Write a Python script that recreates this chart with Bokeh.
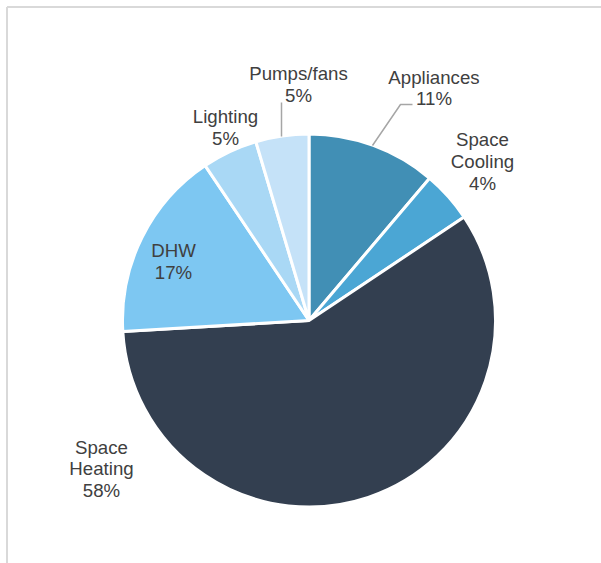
import math
from bokeh.plotting import figure
from bokeh.models import Range1d, ColumnDataSource
from bokeh.core.properties import value
from bokeh.embed import file_html
from bokeh.resources import INLINE

# ---- data ----
categories = ["Appliances", "Space Cooling", "Space Heating", "DHW", "Lighting", "Pumps/fans"]
label_names = ["Appliances", "Space\nCooling", "Space\nHeating", "DHW", "Lighting", "Pumps/fans"]
values = [11.2, 4.45, 58.45, 16.55, 4.8, 4.6]
colors = ["#418FB5", "#4BA6D4", "#333F50", "#7DC7F2", "#A9D8F5", "#C5E2F8"]

# ---- layout ----
W, H = 601, 563
CX, CY, R = 308.5, 320, 186.5  # pixel coords (y from top)


def py(y):
    return H - y


total = sum(values)
fracs = [v / total for v in values]
starts, ends = [], []
cum = 0.0
for f in fracs:
    starts.append(math.pi / 2 - 2 * math.pi * cum)
    cum += f
    ends.append(math.pi / 2 - 2 * math.pi * cum)
pct_labels = ["%d%%" % int(f * 100 + 0.5) for f in fracs]

p = figure(width=W, height=H, x_range=Range1d(0, W), y_range=Range1d(0, H),
           output_backend="svg", toolbar_location=None, min_border=0)
p.axis.visible = False
p.grid.visible = False
p.outline_line_color = None
p.background_fill_color = "white"
p.border_fill_color = "white"

# chart frame
p.segment(x0=[6.5, 6.5], y0=[py(6.5), py(6.5)], x1=[W, 6.5], y1=[py(6.5), 0],
          line_color="#D9D9D9", line_width=2)

src = ColumnDataSource(dict(cat=categories, start=starts, end=ends, color=colors))
p.wedge(x=CX, y=py(CY), radius=R, start_angle="start", end_angle="end",
        direction="clock", fill_color="color", line_color="white", line_width=3,
        source=src)

# leader lines
p.line(x=[281, 281], y=[py(102), py(136)], line_color="#A6A6A6", line_width=1.5)
p.line(x=[372, 400, 412], y=[py(145), py(104), py(104)], line_color="#A6A6A6", line_width=1.5)

# label positions (block centres, pixel coords)
label_pos = [(433.5, 87.5), (482, 161), (101, 468.5), (173, 261), (225, 127), (298, 84)]
texts = [n + "\n" + pc for n, pc in zip(label_names, pct_labels)]
lsrc = ColumnDataSource(dict(x=[lp[0] for lp in label_pos], y=[py(lp[1]) for lp in label_pos], t=texts))
p.text(x="x", y="y", text="t", source=lsrc, text_align="center", text_baseline="middle",
       text_font=value("Liberation Sans"), text_font_size="14pt", text_color="#404040",
       text_line_height=1.03)

open("out.html", "w").write(file_html(p, INLINE))
